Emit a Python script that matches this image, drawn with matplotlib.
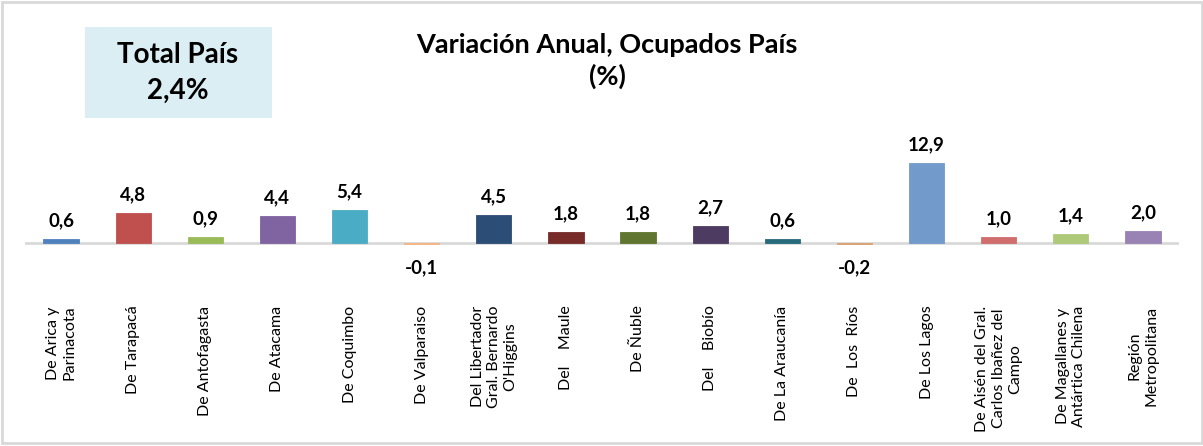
import matplotlib
matplotlib.use("Agg")
import matplotlib.pyplot as plt
from matplotlib.patches import Rectangle

# datos: variacion anual de ocupados por region (%)
regiones = [
    "De Arica y\nParinacota", "De Tarapacá", "De Antofagasta", "De Atacama",
    "De Coquimbo", "De Valparaiso", "Del Libertador\nGral. Bernardo\nO'Higgins",
    "Del    Maule", "De Ñuble", "Del    Biobío", "De La Araucanía",
    "De  Los  Ríos", "De Los Lagos", "De Aisén del Gral.\nCarlos Ibañez del\nCampo",
    "De Magallanes y\nAntártica Chilena", "Región\nMetropolitana",
]
variacion = [0.6, 4.8, 0.9, 4.4, 5.4, -0.1, 4.5, 1.8, 1.8, 2.7, 0.6, -0.2, 12.9, 1.0, 1.4, 2.0]
colores = [
    "#4F81BD", "#C0504D", "#9BBB59", "#8064A2", "#4BACC6", "#F5B483",
    "#2C4D75", "#772C2A", "#5F7530", "#4D3B62", "#276A7C", "#D9A06E",
    "#729ACA", "#D06E6E", "#AFC97A", "#9983B5",
]
total_pais = "2,4%"

plt.rcParams['font.family'] = ['Lato', 'DejaVu Sans']

W, H = 1203, 446
fig = plt.figure(figsize=(W / 100, H / 100), dpi=100)

# marco gris de la figura
fig.patches.append(Rectangle((1.5 / W, 3 / H), (W - 3) / W, (H - 5) / H,
                             transform=fig.transFigure, fill=False,
                             edgecolor="#D9D9D9", linewidth=2))

# ejes: x de 25 a 1179 px, y de 150 a 250 px (desde arriba)
ax = fig.add_axes([25 / W, 1 - 250 / H, 1154 / W, 100 / H])
x = range(len(regiones))
ax.bar(x, variacion, width=0.49, color=colores, edgecolor=colores, linewidth=0.6)
ax.set_xlim(-0.5, len(regiones) - 0.5)
ax.set_ylim(-7 / 6.2, 12.9 + 13 / 6.2)
ax.axhline(0, color="#D9D9D9", linewidth=2, zorder=0)

for s in ax.spines.values():
    s.set_visible(False)
ax.set_yticks([])
ax.set_xticks(list(x))
ax.set_xticklabels(regiones, rotation=90, fontsize=11.5, ha="center", va="top",
                   multialignment="center")
ax.tick_params(axis="x", length=0, pad=40)

for i, v in enumerate(variacion):
    txt = f"{v:.1f}".replace(".", ",")
    if v >= 0:
        ax.annotate(txt, (i, v), xytext=(0, 7), textcoords="offset points",
                    ha="center", va="bottom", fontsize=13.5, fontweight="bold")
    else:
        ax.annotate(txt, (i, v), xytext=(0, -11), textcoords="offset points",
                    ha="center", va="top", fontsize=13.5, fontweight="bold")

# titulo
fig.text(607 / W, 1 - 61 / H, "Variación Anual, Ocupados País\n(%)", ha="center",
         va="center", fontsize=19.5, fontweight="bold", linespacing=1.35)

# recuadro total pais
fig.patches.append(Rectangle((85 / W, 1 - 118 / H), 187 / W, 91 / H,
                             transform=fig.transFigure, facecolor="#DAEEF3",
                             edgecolor="none"))
fig.text(178 / W, 1 - 73 / H, "Total País\n" + total_pais, ha="center", va="center",
         fontsize=20, fontweight="bold", linespacing=1.45)

fig.savefig("out.png", dpi=100)
